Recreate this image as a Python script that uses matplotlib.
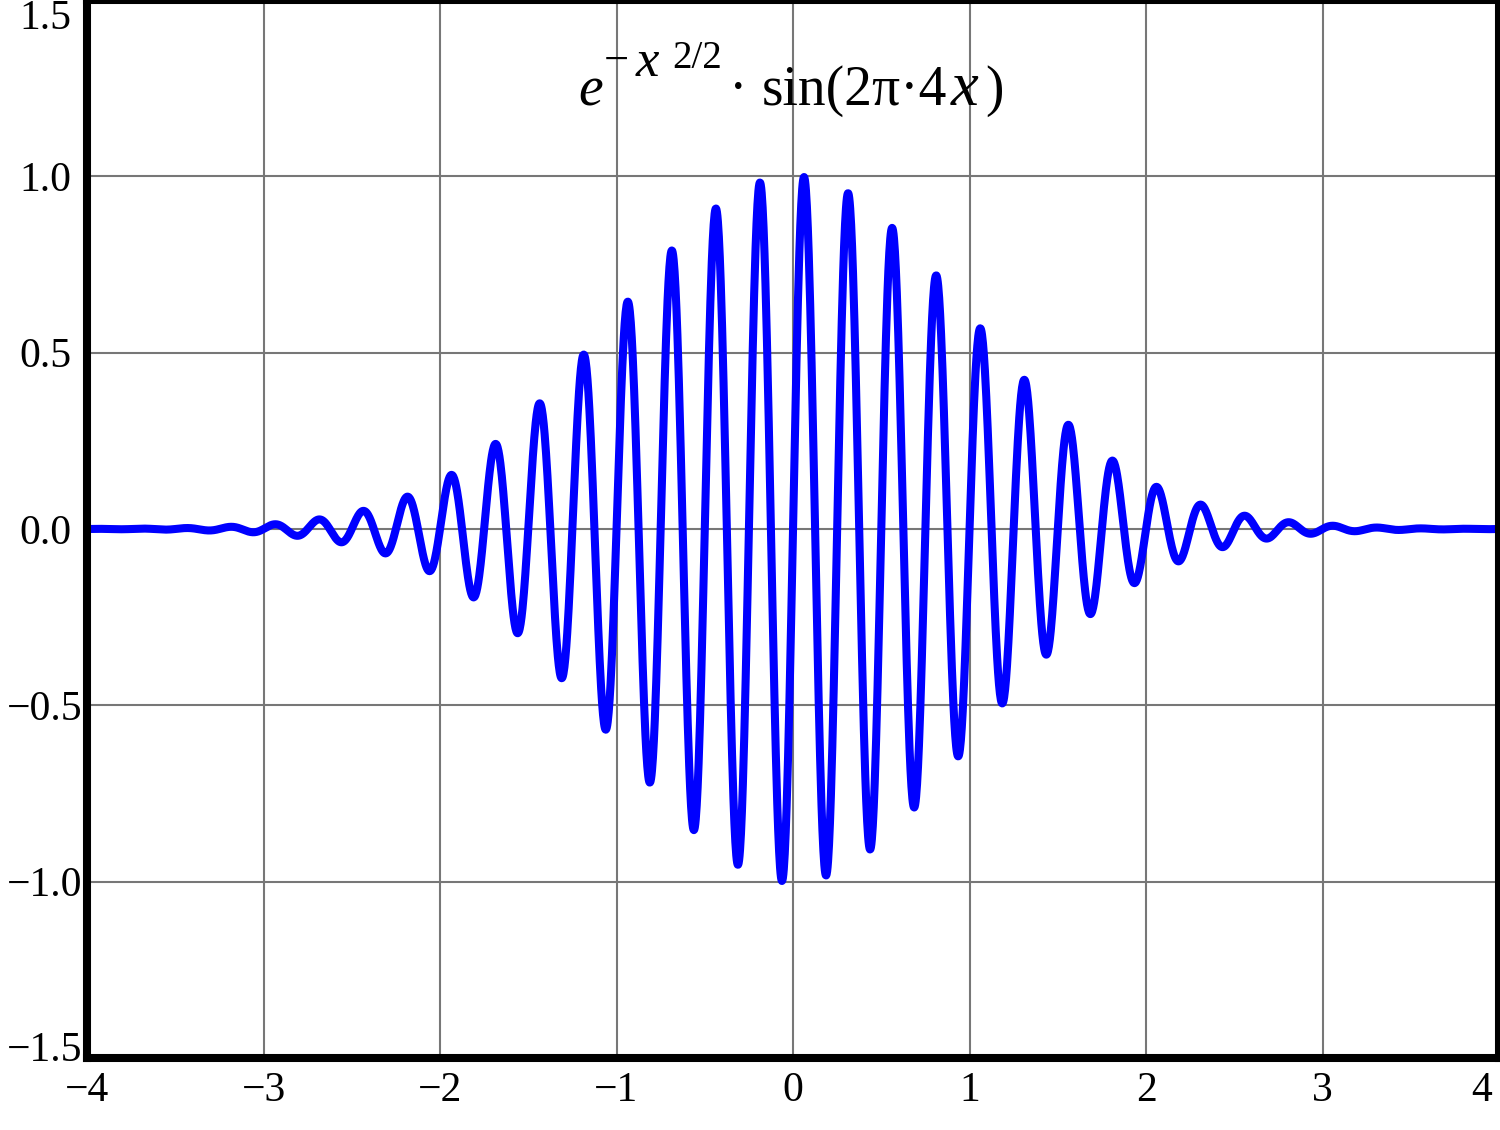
import numpy as np
import matplotlib
matplotlib.use("Agg")
import matplotlib.pyplot as plt
from matplotlib.transforms import IdentityTransform, ScaledTranslation

# Function shown in the chart title: exp(-x^2/2) * sin(2*pi*4*x)
x_min, x_max = -4.0, 4.0
y_min, y_max = -1.5, 1.5
frequency = 4
n_samples = 3000
x_values = np.linspace(x_min, x_max, n_samples)
y_values = np.exp(-x_values**2 / 2) * np.sin(2 * np.pi * frequency * x_values)

x_ticks = [-4, -3, -2, -1, 0, 1, 2, 3, 4]
x_tick_labels = ["\u22124", "\u22123", "\u22122", "\u22121", "0", "1", "2", "3", "4"]
y_ticks = [-1.5, -1.0, -0.5, 0.0, 0.5, 1.0, 1.5]
y_tick_labels = ["\u22121.5", "\u22121.0", "\u22120.5", "0.0", "0.5", "1.0", "1.5"]

plt.rcParams["font.family"] = ["Liberation Serif", "DejaVu Serif"]

W, H = 1500, 1130
fig = plt.figure(figsize=(15, 11.3), dpi=100)
ax = fig.add_axes([87 / W, 72 / H, (1499 - 87) / W, (H - 72) / H])

ax.plot(x_values, y_values, color="#0000ff", lw=5.8, zorder=3)

ax.set_xlim(x_min, x_max)
ax.set_ylim(y_min, y_max)
ax.set_xticks(x_ticks)
ax.set_xticklabels(x_tick_labels)
ax.set_yticks(y_ticks)
ax.set_yticklabels(y_tick_labels)
ax.tick_params(length=0, labelsize=30)
ax.tick_params(axis="x", pad=10)
ax.tick_params(axis="y", pad=11)
ax.grid(True, color="#777777", lw=1.5)
ax.set_axisbelow(True)
for s in ax.spines.values():
    s.set_linewidth(5.8)
    s.set_color("black")
    s.set_zorder(5)

# label offsets (in pixels) as drawn in the reference
def shift(label, dx, dy):
    label.set_transform(label.get_transform() + ScaledTranslation(dx / 100, dy / 100, fig.dpi_scale_trans))

for lab, v in zip(ax.get_yticklabels(), y_ticks):
    dx = 11 if v < 0 else 0
    dy = 0
    if v == y_max:
        dy = -14
    elif v == y_min:
        dy = 12
    shift(lab, dx, dy)
for lab, v in zip(ax.get_xticklabels(), x_ticks):
    if v == x_max:
        shift(lab, -17, 0)

# title built from pieces (pixel positions measured from the top-left)
tr = IdentityTransform()
def piece(x, y_top, s, size, style="normal", ha="left"):
    fig.text(x, H - y_top, s, transform=tr, fontsize=size, fontstyle=style,
             ha=ha, va="baseline", zorder=6)

piece(578, 105, "e", 40, "italic")
piece(604, 73, "\u2212", 32)
piece(636, 76, "x", 38, "italic")
piece(672, 68, "2/2", 28)
piece(738, 105, "\u00b7", 40, ha="center")
piece(762, 105, "sin(2\u03c0\u00b74", 40)
piece(951, 105, "x", 45, "italic")
piece(1004, 105, ")", 40, ha="right")

fig.savefig("out.png", dpi=100)
